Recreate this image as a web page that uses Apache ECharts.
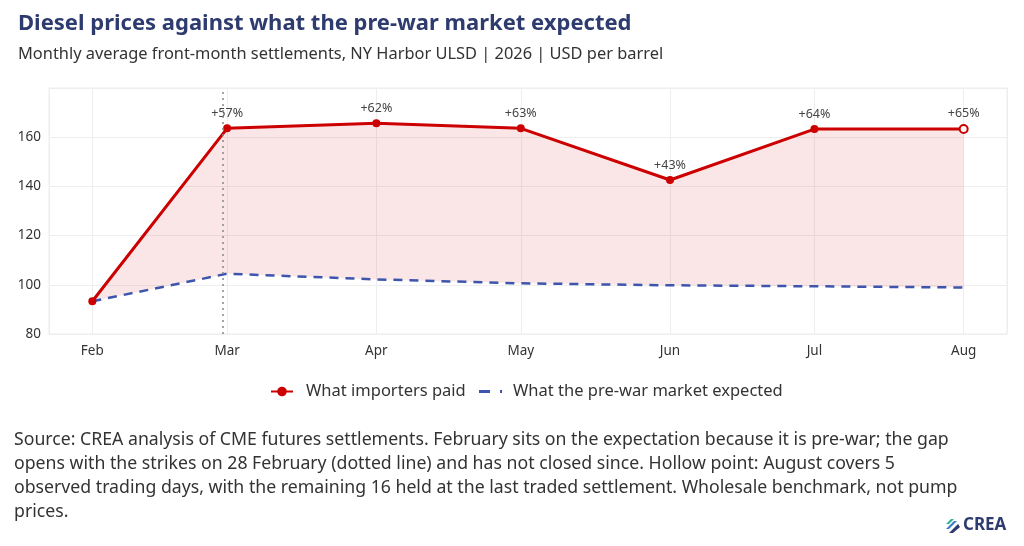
<!DOCTYPE html>
<html>
<head>
<meta charset="utf-8">
<script src="https://cdn.jsdelivr.net/npm/echarts@6/dist/echarts.min.js"></script>
<style>
  html, body { margin: 0; padding: 0; background: #fff; }
  #chart { width: 1024px; height: 546px; }
</style>
</head>
<body>
<div id="chart"></div>
<script>
// month starts (monthly averages plotted on the 1st)
var months = ['2026-02-01', '2026-03-01', '2026-04-01', '2026-05-01', '2026-06-01', '2026-07-01', '2026-08-01'];
var paid = [93.3, 163.6, 165.7, 163.6, 142.6, 163.3, 163.3];
var expected = [93.3, 104.5, 102.2, 100.6, 99.8, 99.4, 98.9];
var gapLabels = ['', '+57%', '+62%', '+63%', '+43%', '+64%', '+65%'];
var strikeDate = '2026-02-28';
var yTicks = [80, 100, 120, 140, 160];

var FONT = '"Noto Sans", "Open Sans", sans-serif';
var myChart = echarts.init(document.getElementById('chart'));

function pairs(vals) {
	return months.map(function (m, i) { return [m, vals[i]]; });
}
var gap = months.map(function (m, i) { return [m, +(paid[i] - expected[i]).toFixed(2)]; });
var paidData = months.map(function (m, i) {
	var d = { value: [m, paid[i]], label: { formatter: gapLabels[i] } };
	if (i === months.length - 1) {
		// partial month, drawn hollow
		d.itemStyle = { color: '#fff', borderColor: '#cc0000', borderWidth: 2 };
	}
	return d;
});

var option = {
	animation: false,
	textStyle: { fontFamily: FONT },
	title: {
		text: 'Diesel prices against what the pre-war market expected',
		subtext: 'Monthly average front-month settlements, NY Harbor ULSD | 2026 | USD per barrel',
		left: 13, top: 8,
		itemGap: 11,
		textStyle: { fontFamily: FONT, fontSize: 22, fontWeight: 'bold', color: '#2e3b6e' },
		subtextStyle: { fontFamily: FONT, fontSize: 16.4, color: '#333' }
	},
	legend: [
		{
			top: 378, left: 265,
			itemWidth: 22, itemHeight: 12,
			textStyle: { fontFamily: FONT, fontSize: 16.5, color: '#333', padding: [0, 0, 0, 8] },
			data: ['What importers paid']
		},
		{
			top: 378, left: 474,
			icon: 'path://M0,0H11V3H0Z M21,0H23V3H21Z',
			itemWidth: 23, itemHeight: 3,
			itemStyle: { color: '#3d55ad' },
			textStyle: { fontFamily: FONT, fontSize: 16.5, color: '#333', padding: [0, 0, 0, 6] },
			data: ['What the pre-war market expected']
		}
	],
	grid: {
		left: 49, right: 17, top: 88, bottom: 212,
		show: true, borderColor: '#ececec', borderWidth: 1
	},
	xAxis: {
		type: 'time',
		min: '2026-01-23',
		max: '2026-08-10',
		minInterval: 28 * 86400000,
		maxInterval: 31 * 86400000,
		axisLine: { show: false },
		axisTick: { show: false },
		splitLine: { show: true, lineStyle: { color: '#eeeeee' } },
		axisLabel: {
			formatter: '{MMM}',
			color: '#333', fontSize: 13.5, margin: 10,
			showMinLabel: false, showMaxLabel: false
		}
	},
	yAxis: {
		type: 'value',
		min: 80, max: 180, interval: 20,
		axisLine: { show: false },
		axisTick: { show: false },
		splitLine: { lineStyle: { color: '#eeeeee' } },
		axisLabel: {
			color: '#333', fontSize: 13.5, margin: 8,
			formatter: function (v) { return yTicks.indexOf(v) >= 0 ? v : ''; }
		}
	},
	series: [
		{
			name: 'base',
			type: 'line',
			stack: 'band',
			data: pairs(expected),
			symbol: 'none',
			lineStyle: { opacity: 0 },
			silent: true,
			z: 1
		},
		{
			name: 'gap',
			type: 'line',
			stack: 'band',
			data: gap,
			symbol: 'none',
			lineStyle: { opacity: 0 },
			areaStyle: { color: 'rgba(214, 40, 40, 0.17)' },
			silent: true,
			z: 1
		},
		{
			name: 'What the pre-war market expected',
			type: 'line',
			data: pairs(expected),
			symbol: 'none',
			itemStyle: { color: '#3d55ad' },
			lineStyle: { color: '#3d55ad', width: 2.5, type: [9, 7] },
			z: 3
		},
		{
			name: 'What importers paid',
			type: 'line',
			data: paidData,
			symbol: 'circle',
			symbolSize: 8,
			itemStyle: { color: '#cc0000' },
			lineStyle: { color: '#cc0000', width: 3 },
			label: {
				show: true, position: 'top', distance: 4,
				fontFamily: FONT, fontSize: 12.5, color: '#444'
			},
			markLine: {
				silent: true,
				symbol: 'none',
				label: { show: false },
				lineStyle: { color: '#888', type: [2, 4], width: 1.5 },
				data: [{ xAxis: strikeDate }]
			},
			z: 4
		}
	],
	graphic: [
		{
			type: 'text',
			left: 14, top: 428,
			style: {
				text: 'Source: CREA analysis of CME futures settlements. February sits on the expectation because it is pre-war; the gap\n' +
					'opens with the strikes on 28 February (dotted line) and has not closed since. Hollow point: August covers 5\n' +
					'observed trading days, with the remaining 16 held at the last traded settlement. Wholesale benchmark, not pump\n' +
					'prices.',
				font: '17.7px ' + FONT,
				fill: '#333',
				lineHeight: 24
			}
		},
		{
			type: 'group',
			left: 946, top: 517,
			children: [
				{ type: 'polygon', shape: { points: [[0, 6], [5, 1], [8, 1], [3, 6]] }, style: { fill: '#2bb39a' } },
				{ type: 'polygon', shape: { points: [[0, 11], [8, 3], [11, 3], [3, 11]] }, style: { fill: '#3a7fc4' } },
				{ type: 'polygon', shape: { points: [[3, 15], [12, 6], [14, 9], [7, 15]] }, style: { fill: '#2e3b6e' } },
				{
					type: 'text', left: 17, top: -1,
					style: { text: 'CREA', font: 'bold 17px ' + FONT, fill: '#2e3b6e' }
				}
			]
		}
	]
};
myChart.setOption(option);
</script>
</body>
</html>
